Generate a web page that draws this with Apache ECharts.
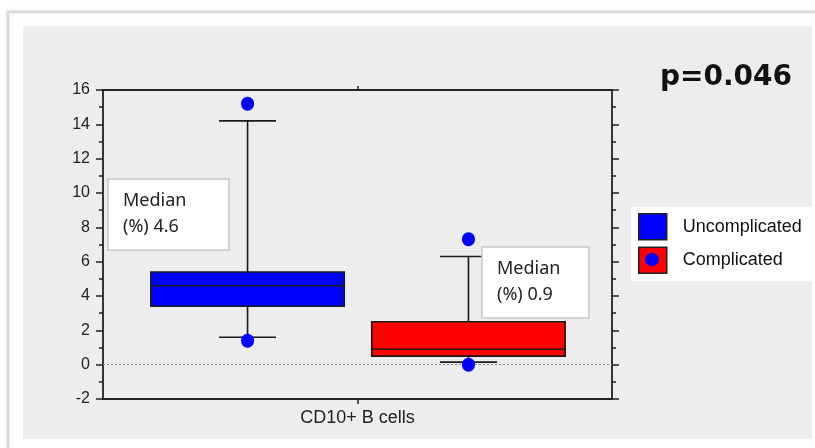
<!DOCTYPE html>
<html><head><meta charset="utf-8">
<script src="https://cdn.jsdelivr.net/npm/echarts@6/dist/echarts.min.js"></script>
<style>html,body{margin:0;padding:0;background:#fff}#c{width:815px;height:448px}</style>
</head><body><div id="c"></div>
<script>
const categories = ['CD10+ B cells'];
const groups = ['Uncomplicated', 'Complicated'];
const whiskerLow = [1.6, 0.15];
const q1 = [3.4, 0.5];
const median = [4.6, 0.9];
const q3 = [5.4, 2.5];
const whiskerHigh = [14.2, 6.3];
const outliers = [[15.2, 1.4], [7.3, 0.0]];
const yMin = -2, yMax = 16, yInterval = 2;
const pValue = 'p=0.046';

const colors = ['#0000ff', '#ff0000'];
const offsets = [-0.216, 0.218];
const boxW = 0.38, capW = 0.112;
const lineCol = '#1a1a1a';

function boxRender(gi) {
  return function (params, api) {
    const band = api.size([1, 0])[0];
    const cx = api.coord([api.value(0), 0])[0] + offsets[gi] * band;
    const y = k => api.coord([api.value(0), api.value(k)])[1];
    const yl = y(1), yq1 = y(2), ym = y(3), yq3 = y(4), yh = y(5);
    const bw = boxW * band, cw = capW * band;
    const ls = { stroke: lineCol, lineWidth: 1.6 };
    return { type: 'group', children: [
      { type: 'line', shape: { x1: cx, y1: yh, x2: cx, y2: yq3 }, style: ls },
      { type: 'line', shape: { x1: cx, y1: yq1, x2: cx, y2: yl }, style: ls },
      { type: 'line', shape: { x1: cx - cw / 2, y1: yh, x2: cx + cw / 2, y2: yh }, style: ls },
      { type: 'line', shape: { x1: cx - cw / 2, y1: yl, x2: cx + cw / 2, y2: yl }, style: ls },
      { type: 'rect', shape: { x: cx - bw / 2, y: yq3, width: bw, height: yq1 - yq3 },
        style: { fill: colors[gi], stroke: lineCol, lineWidth: 1.6 } },
      { type: 'line', shape: { x1: cx - bw / 2, y1: ym, x2: cx + bw / 2, y2: ym }, style: ls }
    ]};
  };
}
function dotRender(gi) {
  return function (params, api) {
    const band = api.size([1, 0])[0];
    const p = api.coord([api.value(0), api.value(1)]);
    return { type: 'ellipse', shape: { cx: p[0] + offsets[gi] * band, cy: p[1], rx: 6.5, ry: 7 },
      style: { fill: '#0000ff' } };
  };
}

const series = [];
groups.forEach((g, i) => {
  series.push({
    name: g, type: 'custom', renderItem: boxRender(i), z: 3,
    itemStyle: { color: colors[i] },
    encode: { x: 0, y: [1, 2, 3, 4, 5] },
    data: [[0, whiskerLow[i], q1[i], median[i], q3[i], whiskerHigh[i]]],
    markLine: i === 0 ? { silent: true, symbol: 'none', label: { show: false },
      lineStyle: { type: [2, 2], color: '#888', width: 1 }, data: [{ yAxis: 0 }] } : undefined
  });
});
groups.forEach((g, i) => {
  series.push({
    name: g + ' outliers', type: 'custom', renderItem: dotRender(i), z: 5,
    encode: { x: 0, y: 1 },
    data: outliers[i].map(v => [0, v])
  });
});

const font = 'Liberation Sans, Arial, sans-serif';
const yBase = {
  type: 'value', min: yMin, max: yMax, interval: yInterval,
  axisLine: { show: true, onZero: false, lineStyle: { color: '#222', width: 1.8 } },
  splitLine: { show: false },
  minorTick: { show: true, splitNumber: 2, length: 4, lineStyle: { color: '#222', width: 1.5 } },
  axisTick: { show: true, inside: false, length: 7, lineStyle: { color: '#222', width: 1.5 } }
};

const chart = echarts.init(document.getElementById('c'), null, { renderer: 'canvas' });
chart.setOption({
  backgroundColor: '#fff',
  animation: false,
  grid: { left: 103, right: 203, top: 90, bottom: 49 },
  xAxis: [
    { type: 'category', data: categories, position: 'bottom',
      axisLine: { onZero: false, lineStyle: { color: '#222', width: 1.8 } },
      axisTick: { show: true, alignWithLabel: true, length: 5, lineStyle: { color: '#222', width: 1.5 } },
      axisLabel: { color: '#222', fontFamily: font, fontSize: 18, margin: 10 } },
    { type: 'category', data: categories, position: 'top',
      axisLine: { onZero: false, lineStyle: { color: '#222', width: 1.8 } },
      axisTick: { show: true, alignWithLabel: true, length: 4, lineStyle: { color: '#222', width: 1.5 } },
      axisLabel: { show: false } }
  ],
  yAxis: [
    Object.assign({}, yBase, { position: 'left',
      axisLabel: { color: '#222', fontFamily: font, fontSize: 16, margin: 13 } }),
    Object.assign({}, yBase, { position: 'right', axisLabel: { show: false } })
  ],
  legend: {
    orient: 'vertical', left: 631, top: 207, padding: [6, 40, 7, 7],
    backgroundColor: '#fff', itemWidth: 28, itemHeight: 26, itemGap: 6,
    textStyle: { color: '#111', fontFamily: font, fontSize: 18, padding: [0, 0, 0, 11] },
    data: groups.map((g, i) => ({ name: g, icon: 'rect',
      itemStyle: { color: colors[i], borderColor: '#222', borderWidth: 1.5 } }))
  },
  graphic: [
    { type: 'rect', z: -10, silent: true, shape: { x: 8, y: 12, width: 830, height: 460 },
      style: { fill: '#fff', stroke: '#d8d8d8', lineWidth: 2, shadowBlur: 4, shadowColor: 'rgba(0,0,0,0.15)' } },
    { type: 'rect', z: -9, silent: true, shape: { x: 23, y: 26, width: 789, height: 413 },
      style: { fill: '#ededed' } },
    { type: 'text', zlevel: 1, z: 100, left: 660, top: 64,
      style: { text: pValue, fill: '#111', font: 'bold 28px "DejaVu Sans", sans-serif' } },
    { type: 'rect', zlevel: 1, z: 100, shape: { x: 108, y: 179, width: 121, height: 71 },
      style: { fill: '#fff', stroke: '#c8c8c8', lineWidth: 1.5 } },
    { type: 'text', zlevel: 1, z: 101, x: 123, y: 188, style: { text: 'Median\n(%) ' + median[0].toFixed(1), fill: '#222',
      font: '18px "Noto Sans", sans-serif', lineHeight: 26 } },
    { type: 'rect', zlevel: 1, z: 100, shape: { x: 482, y: 247, width: 107, height: 71 },
      style: { fill: '#fff', stroke: '#c8c8c8', lineWidth: 1.5 } },
    { type: 'text', zlevel: 1, z: 101, x: 497, y: 256, style: { text: 'Median\n(%) ' + median[1].toFixed(1), fill: '#222',
      font: '18px "Noto Sans", sans-serif', lineHeight: 26 } },
    { type: 'ellipse', zlevel: 1, z: 101, shape: { cx: 652, cy: 259.5, rx: 7, ry: 6.5 }, style: { fill: '#0000ff' } }
  ],
  series: series
});
</script></body></html>
